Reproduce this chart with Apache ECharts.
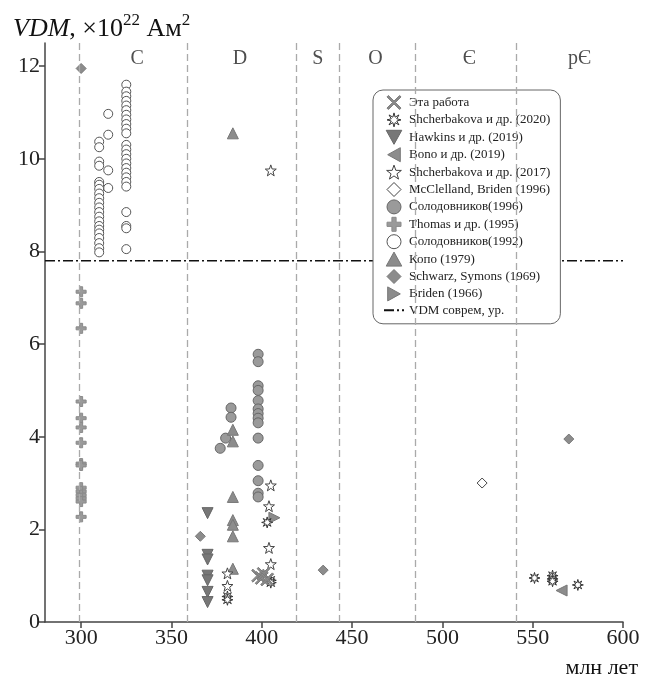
<!DOCTYPE html>
<html>
<head>
<meta charset="utf-8">
<script src="https://cdn.jsdelivr.net/npm/echarts@6/dist/echarts.min.js"></script>
<style>
  html, body { margin: 0; padding: 0; background: #fff; }
  #chart { width: 646px; height: 687px; }
</style>
</head>
<body>
<div id="chart"></div>
<script>
// данные: [возраст, млн лет; VDM, 10^22 Ам^2]
const thisWork = [[398, 1.0], [400, 0.95], [401, 1.04], [403, 0.92]]
const shcherbakova2020 = [[381, 0.55], [381, 0.48], [403, 2.15], [405, 0.9], [405, 0.85],
  [551, 0.95], [561, 1.0], [561, 0.93], [561, 0.88], [575, 0.8]]
const hawkins2019 = [[370, 2.35], [370, 1.45], [370, 1.35], [370, 1.0], [370, 0.9], [370, 0.65], [370, 0.43]]
const bono2019 = [[566, 0.68]]
const shcherbakova2017 = [[381, 1.05], [381, 0.78], [405, 9.75], [405, 2.95], [404, 2.5], [404, 1.6], [405, 1.25]]
const mcclelland1996 = [[522, 3.0]]
const solod1996 = [[377, 3.75], [380, 3.97], [383, 4.62], [383, 4.42],
  [398, 5.78], [398, 5.62], [398, 5.1], [398, 5.0], [398, 4.78], [398, 4.6], [398, 4.5], [398, 4.4],
  [398, 4.3], [398, 3.97], [398, 3.38], [398, 3.05], [398, 2.78], [398, 2.7]]
const thomasAge = 300
const thomasVdm = [7.13, 6.88, 6.34, 4.76, 4.4, 4.2, 3.87, 3.42, 3.38, 2.9, 2.82, 2.74, 2.67, 2.6, 2.27]
const solod1992Col1 = [10.37, 10.25, 9.94, 9.85, 9.5, 9.44, 9.35, 9.25, 9.15, 9.05, 8.95, 8.85,
  8.75, 8.65, 8.55, 8.47, 8.39, 8.29, 8.18, 8.07, 7.98]
const solod1992Col2 = [10.97, 10.52, 9.75, 9.37]
const solod1992Col3 = [11.6, 11.45, 11.35, 11.25, 11.15, 11.05, 10.95, 10.85, 10.75, 10.65, 10.55,
  10.3, 10.2, 10.1, 10.0, 9.9, 9.8, 9.7, 9.6, 9.5, 9.4, 8.85, 8.55, 8.5, 8.05]
const solod1992Ages = [310, 315, 325]
const kopo1979 = [[384, 10.55], [384, 4.15], [384, 3.9], [384, 2.7], [384, 2.2], [384, 2.1], [384, 1.85], [384, 1.15]]
const schwarz1969 = [[300, 11.95], [366, 1.85], [434, 1.12], [570, 3.95]]
const briden1966 = [[407, 2.25]]
const vdmModern = 7.8

// границы периодов и подписи
const periodBounds = [299, 359, 419, 443, 485, 541]
const periodNames = ['C', 'D', 'S', 'O', 'Є', 'pЄ']
const periodLabelAge = [331, 388, 431, 463, 515, 576]
const periodLabelVdm = 12.15

const xTicks = [300, 350, 400, 450, 500, 550, 600]
const yTicks = [0, 2, 4, 6, 8, 10, 12]

const FONT = 'Liberation Serif'

function starPath(n, R, r) {
  let d = ''
  for (let i = 0; i < 2 * n; i++) {
    const a = Math.PI * i / n - Math.PI / 2
    const rr = i % 2 ? r : R
    d += (i ? 'L' : 'M') + (R + rr * Math.cos(a)).toFixed(2) + ',' + (R + rr * Math.sin(a)).toFixed(2)
  }
  return 'path://' + d + 'Z'
}
const STAR5 = starPath(5, 10, 4)
const STAR8 = starPath(8, 10, 4.2)
const CROSS_X = 'path://M0,2L2,0L10,8L18,0L20,2L12,10L20,18L18,20L10,12L2,20L0,18L8,10Z'
const PLUS = 'path://M7,0H13V7H20V13H13V20H7V13H0V7H7Z'
const TRI_UP = 'path://M10,0L20,18H0Z'
const TRI_DOWN = 'path://M0,0H20L10,18Z'
const TRI_LEFT = 'path://M18,0V20L0,10Z'
const TRI_RIGHT = 'path://M0,0V20L18,10Z'
const DIAMOND = 'path://M10,0L20,10L10,20L0,10Z'

const col = (age, arr) => arr.map(v => [age, v])
const solod1992 = col(solod1992Ages[0], solod1992Col1)
  .concat(col(solod1992Ages[1], solod1992Col2))
  .concat(col(solod1992Ages[2], solod1992Col3))
const thomas1995 = col(thomasAge, thomasVdm)

// серии точек: название, данные, значок, размер, заливка, обводка
const groups = [
  ['Эта работа', thisWork, CROSS_X, 13, '#8a8a8a', '#7a7a7a'],
  ['Shcherbakova и др. (2020)', shcherbakova2020, STAR8, 11, '#fff', '#333'],
  ['Hawkins и др. (2019)', hawkins2019, TRI_DOWN, 11, '#777', '#666'],
  ['Bono и др. (2019)', bono2019, TRI_LEFT, 11, '#8c8c8c', '#777'],
  ['Shcherbakova и др. (2017)', shcherbakova2017, STAR5, 11, '#fff', '#444'],
  ['McClelland, Briden (1996)', mcclelland1996, DIAMOND, 10, '#fff', '#444'],
  ['Солодовников(1996)', solod1996, 'circle', 10, '#9a9a9a', '#666'],
  ['Thomas и др. (1995)', thomas1995, PLUS, 10, '#9a9a9a', '#8a8a8a'],
  ['Солодовников(1992)', solod1992, 'circle', 9, '#fff', '#555'],
  ['Копо (1979)', kopo1979, TRI_UP, 11, '#8c8c8c', '#777'],
  ['Schwarz, Symons (1969)', schwarz1969, DIAMOND, 10, '#8c8c8c', '#777'],
  ['Briden (1966)', briden1966, TRI_RIGHT, 11, '#8c8c8c', '#777']
]
const lineName = 'VDM соврем, ур.'
// порядок отрисовки (снизу вверх)
const drawOrder = [8, 7, 6, 9, 10, 2, 3, 11, 5, 4, 1, 0]

const chart = echarts.init(document.getElementById('chart'))

const legendData = groups.map(g => ({
  name: g[0],
  icon: g[2],
  itemStyle: { color: g[4], borderColor: g[5], borderWidth: 1 }
}))
legendData.push({ name: lineName, itemStyle: { color: 'rgba(0,0,0,0)', borderWidth: 0 } })

const scatterSeries = drawOrder.map(i => {
  const g = groups[i]
  return {
    name: g[0],
    type: 'scatter',
    data: g[1],
    symbol: g[2],
    symbolSize: g[3],
    itemStyle: { color: g[4], borderColor: g[5], borderWidth: 1, opacity: 1 },
    emphasis: { disabled: true }
  }
})

chart.setOption({
  animation: false,
  textStyle: { fontFamily: FONT },
  title: [
    {
      left: 8,
      top: 7,
      text: '{i|VDM}{n|, ×10}{s|22}{n| Ам}{s|2}',
      textStyle: {
        fontWeight: 'normal',
        rich: {
          i: { fontFamily: FONT, fontSize: 26, fontStyle: 'italic', fontWeight: 'normal', color: '#111', lineHeight: 30, verticalAlign: 'bottom' },
          n: { fontFamily: FONT, fontSize: 26, fontWeight: 'normal', color: '#111', lineHeight: 30, verticalAlign: 'bottom' },
          s: { fontFamily: FONT, fontSize: 17, fontWeight: 'normal', color: '#111', lineHeight: 17, verticalAlign: 'top' }
        }
      }
    },
    {
      right: 3,
      top: 652,
      text: 'млн лет',
      textStyle: { fontFamily: FONT, fontSize: 22, fontWeight: 'normal', color: '#111' }
    }
  ],
  grid: { left: 45, right: 23, top: 43, bottom: 65 },
  legend: {
    left: 373,
    top: 90,
    orient: 'vertical',
    padding: [5, 10, 7, 10],
    itemWidth: 20,
    itemHeight: 14,
    itemGap: 2.4,
    borderColor: '#666',
    borderWidth: 1,
    borderRadius: 10,
    backgroundColor: '#fff',
    selectedMode: false,
    data: legendData,
    textStyle: { fontFamily: FONT, fontSize: 13, color: '#222' }
  },
  xAxis: {
    type: 'value',
    min: 280,
    max: 600,
    axisLine: { lineStyle: { color: '#444', width: 1.5 } },
    axisTick: { show: true, length: 6, customValues: xTicks, lineStyle: { color: '#444', width: 1.5 } },
    axisLabel: { customValues: xTicks, fontFamily: FONT, fontSize: 22, color: '#222', margin: 5 },
    splitLine: { show: false }
  },
  yAxis: {
    type: 'value',
    min: 0,
    max: 12.5,
    axisLine: { show: true, lineStyle: { color: '#444', width: 1.5 } },
    axisTick: { show: true, length: 6, customValues: yTicks, lineStyle: { color: '#444', width: 1.5 } },
    axisLabel: { customValues: yTicks, fontFamily: FONT, fontSize: 22, color: '#222', margin: 5 },
    splitLine: { show: false }
  },
  series: [
    // границы периодов
    {
      type: 'scatter',
      data: [],
      silent: true,
      markLine: {
        silent: true,
        symbol: 'none',
        label: { show: false },
        lineStyle: { color: '#aaa', width: 1.3, type: [7, 4] },
        data: periodBounds.map(b => ({ xAxis: b }))
      }
    },
    // подписи периодов
    {
      type: 'scatter',
      silent: true,
      symbolSize: 1,
      itemStyle: { color: 'rgba(0,0,0,0)' },
      data: periodNames.map((n, i) => ({ value: [periodLabelAge[i], periodLabelVdm], name: n })),
      label: {
        show: true,
        position: 'inside',
        formatter: p => p.name,
        fontFamily: FONT,
        fontSize: 20,
        color: '#222'
      }
    },
    {
      name: lineName,
      type: 'line',
      data: [[280, vdmModern], [600, vdmModern]],
      symbol: 'none',
      silent: true,
      lineStyle: { color: '#111', width: 1.6, type: [10, 3, 2, 3] },
      itemStyle: { color: '#111' }
    }
  ].concat(scatterSeries)
})
</script>
</body>
</html>
